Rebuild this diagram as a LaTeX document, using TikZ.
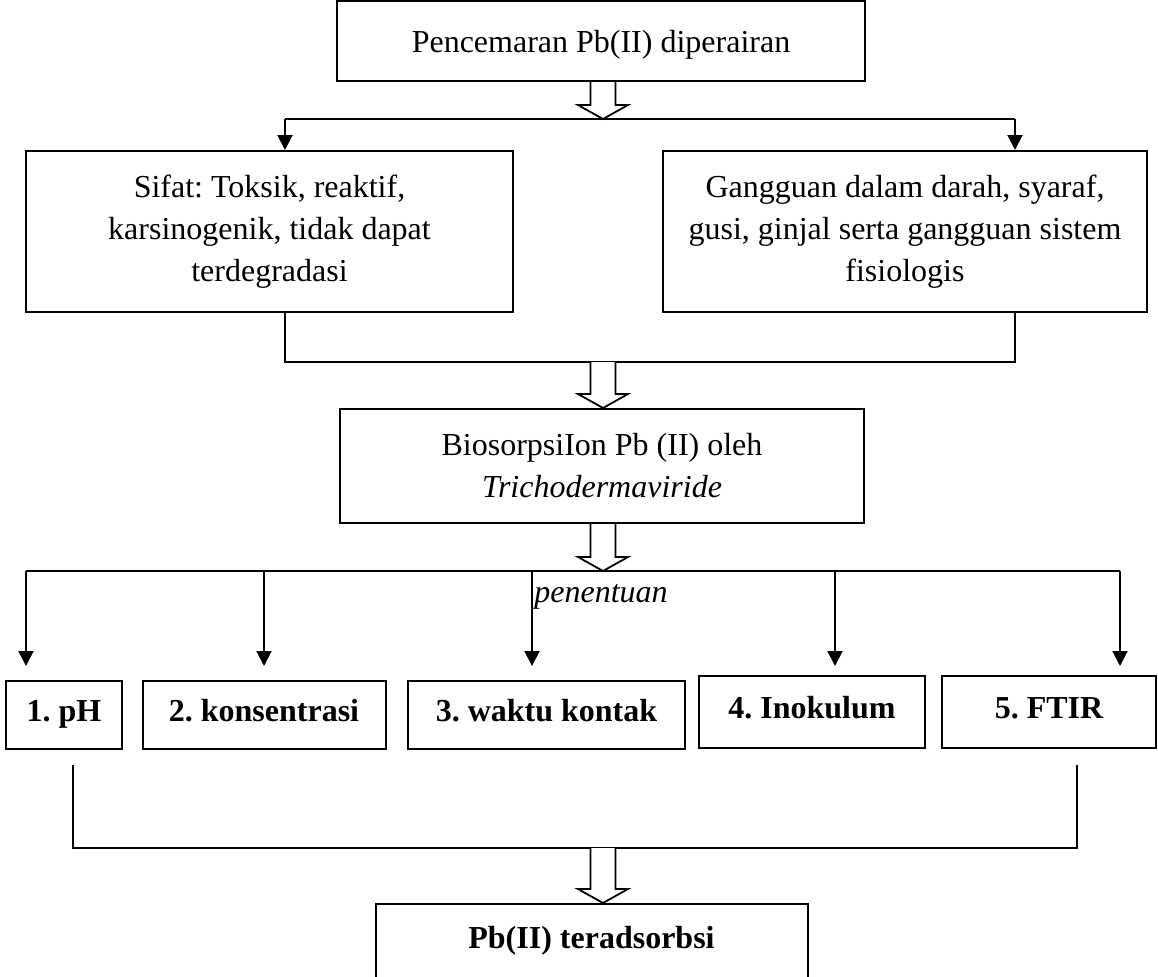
\documentclass[tikz,border=0pt]{standalone}
\usepackage{fontspec}
\setmainfont{Liberation Serif}
\usetikzlibrary{arrows.meta,calc}
\frenchspacing

\newcommand{\hollowarrow}[2]{%
  \draw[line width=0.9pt, fill=white] let \p1=(#1), \p2=(#2) in
    (\x1-6.25pt,\y1) -- (\x1-6.25pt,\y2+7pt) -- (\x1-12.5pt,\y2+7pt) -- (\x1,\y2)
    -- (\x1+12.5pt,\y2+7pt) -- (\x1+6.25pt,\y2+7pt) -- (\x1+6.25pt,\y1);}

\begin{document}
\begin{tikzpicture}[x=0.5pt,y=-0.5pt,
  box/.style={draw, line width=1pt, inner sep=0pt, align=center, font=\fontsize{16}{21}\selectfont},
  item/.style={box, minimum height=34pt, text height=10.5pt, text depth=4.5pt, font=\fontsize{16}{21}\selectfont\bfseries},
  conn/.style={line width=1pt},
  arr/.style={conn, -{Triangle[width=7.5pt,length=7.5pt]}}]
\useasboundingbox (0,0) rectangle (1158,976);

\node[box, minimum width=264pt, minimum height=40pt, text height=15pt, text depth=3.5pt] (pcm) at (601,41) {Pencemaran Pb(II) diperairan};
\node[box, minimum width=243.5pt, minimum height=80.5pt] (sft) at (269.5,231.5) {Sifat: Toksik, reaktif,\\karsinogenik, tidak dapat\\terdegradasi};
\node[box, minimum width=242pt, minimum height=80.5pt] (ggn) at (905,231.5) {Gangguan dalam darah, syaraf,\\gusi, ginjal serta gangguan sistem\\fisiologis};
\node[box, minimum width=262pt, minimum height=57pt] (bio) at (602,466) {BiosorpsiIon Pb (II) oleh\\\textit{Trichodermaviride}};
\node[item, minimum width=58pt] (ph) at (64,715) {1. pH};
\node[item, minimum width=121.5pt] (kon) at (264,715) {2. konsentrasi};
\node[item, minimum width=138.5pt] (wkt) at (546.5,715) {3. waktu kontak};
\node[item, minimum width=113pt, minimum height=36pt] (ino) at (812,712) {4. Inokulum};
\node[item, minimum width=107pt, minimum height=36pt] (ftir) at (1049,712) {5. FTIR};
\node[item, minimum width=216pt, anchor=north, text height=17pt, text depth=20pt, inner ysep=5pt] (hsl) at (591.5,903) {Pb(II) teradsorbsi};
\node[font=\fontsize{16}{21}\selectfont\itshape, anchor=base west, inner sep=0pt] (pen) at (534,602) {penentuan};

\coordinate (j1) at (603,119);
\coordinate (l1) at (285,119);
\coordinate (r1) at (1015,119);
\hollowarrow{pcm.south -| j1}{j1}
\draw[conn] (l1) -- (r1);
\draw[arr] (l1) -- (l1 |- sft.north);
\draw[arr] (r1) -- (r1 |- ggn.north);

\coordinate (j2) at (603,362);
\draw[conn] (l1 |- sft.south) |- (j2) -| (r1 |- ggn.south);
\hollowarrow{j2}{j2 |- bio.north}

\coordinate (j3) at (603,571);
\coordinate (b1) at (26,571);
\coordinate (b2) at (264,571);
\coordinate (b3) at (532,571);
\coordinate (b4) at (835,571);
\coordinate (b5) at (1120,571);
\hollowarrow{bio.south -| j3}{j3}
\draw[conn] (b1) -- (b5);
\foreach \b/\n/\s in {b1/ph/7pt, b2/kon/7pt, b3/wkt/7pt, b4/ino/4.5pt, b5/ftir/4.5pt}
  \draw[arr, shorten >=\s] (\b) -- (\b |- \n.north);

\coordinate (g1) at (73,765);
\coordinate (g5) at (1077,765);
\coordinate (j4) at (603,848);
\draw[conn] (g1) |- (j4) -| (g5);
\hollowarrow{j4}{j4 |- hsl.north}
\end{tikzpicture}
\end{document}
